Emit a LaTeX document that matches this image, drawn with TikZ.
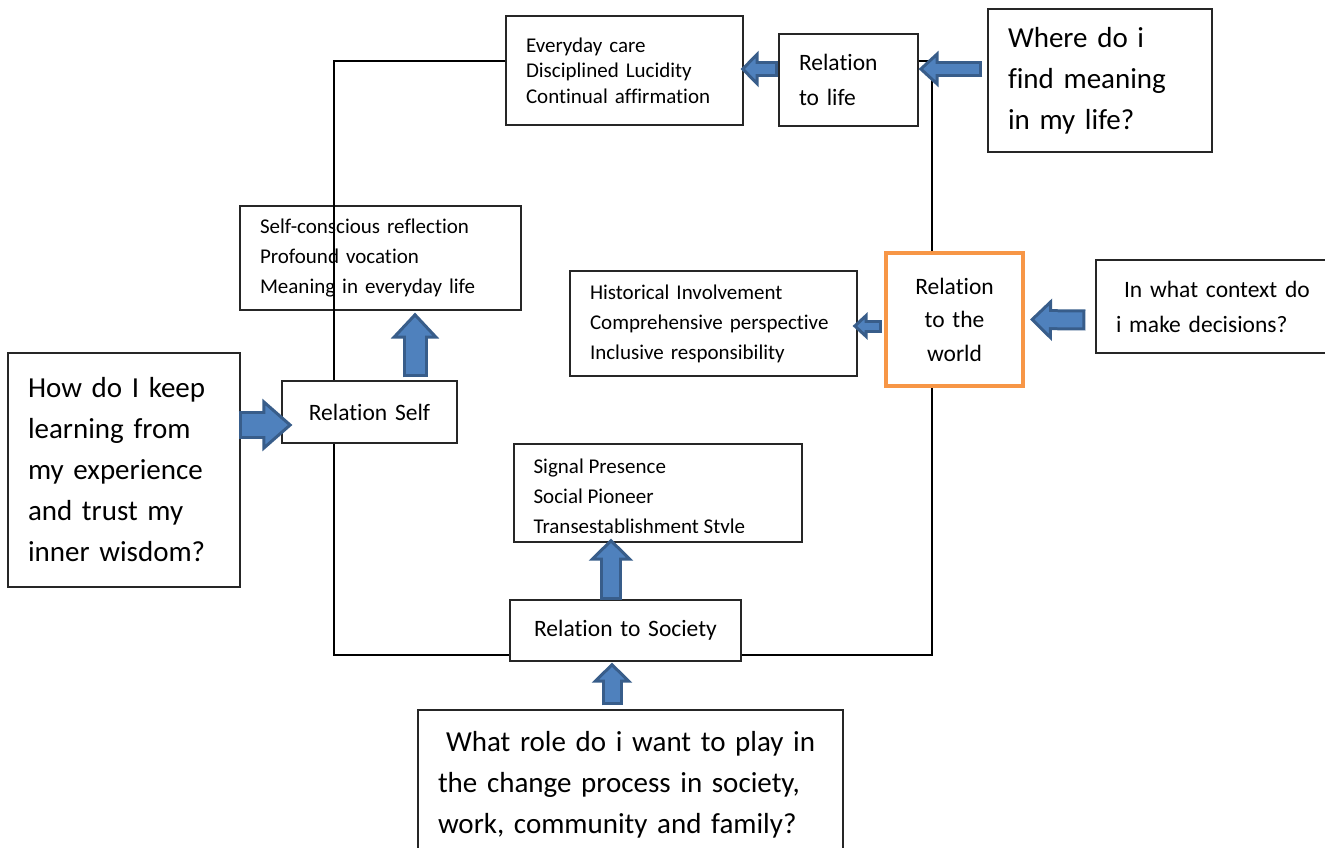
\documentclass[tikz,border=0pt]{standalone}
\usepackage{fontspec}
\setmainfont{Carlito}[Ligatures=NoCommon]
\usetikzlibrary{arrows.meta}
\definecolor{arrowfill}{HTML}{4F81BD}
\definecolor{arrowline}{HTML}{385D8A}
\definecolor{worldline}{HTML}{F79646}
\tikzset{box/.style={draw=black!85, line width=1.2pt, fill=white, inner xsep=20pt, inner ysep=0pt, align=left}}
\tikzset{list/.style={font=\fontsize{21}{30}\selectfont}}
\tikzset{rel/.style={font=\fontsize{23.5}{35}\selectfont}}
\tikzset{ask/.style={font=\fontsize{29}{41}\selectfont}}
\tikzset{fat/.style n args={3}{draw=arrowline, line width=#1pt, -{Triangle[length=#3pt, width=#2pt, fill=arrowfill, line width=3pt]}, postaction={draw=arrowfill, line width=#1pt-6pt, -, shorten <=3pt, shorten >=#3pt-4pt}}}

\begin{document}
\begin{tikzpicture}
                [x=1pt,y=-1pt]
                \useasboundingbox (0,0) rectangle (1325,848);
                \node [box,list,font=\fontsize{21}{25.5}\selectfont,text width=197pt,minimum height=109pt] (care) at (624.5,70.5) {Everyday care\\Disciplined Lucidity\\Continual affirmation};
                \node [box,rel,text width=99pt,minimum height=92pt] (life) at (848.5,80) {Relation\\to life};
                \node [box,ask,text width=184pt,minimum height=143pt] (where) at (1100,80.5) {Where do i\\find meaning\\in my life?};
                \node [box,list,text width=241pt,minimum height=104pt] (reflect) at (380.5,258) {Self-conscious reflection\\Profound vocation\\Meaning in everyday life};
                \node [box,list,text width=247pt,minimum height=105pt] (history) at (713.5,323.5) {Historical Involvement\\Comprehensive perspective\\Inclusive responsibility};
                \node [box,rel,font=\fontsize{23.5}{33.5}\selectfont,draw=worldline,line width=4pt,align=center,text width=97pt,minimum height=133pt] (world) at (954.5,319.5) {Relation\\to the\\world};
                \node [box,rel,text width=220pt,minimum height=93pt] (context) at (1226,306.5) {\hspace*{8pt}In what context do\\i make decisions?};
                \node [box,ask,text width=192pt,minimum height=234pt] (how) at (124,470) {How do I keep\\learning from\\my experience\\and trust my\\inner wisdom?};
                \node [box,rel,align=center,text width=135pt,minimum height=62pt] (self) at (369.5,412) {Relation Self};
                \node [box,text width=248pt,minimum height=98pt] (signal) at (658,493) {};
                \begin{scope}
                \clip (signal.north west) rectangle ([yshift=10pt]signal.south east);
                \node [list,align=left,inner sep=0pt,anchor=north west] (signaltext) at ([xshift=20pt,yshift=-15pt]signal.north west) {Signal Presence\\Social Pioneer\\Transestablishment Style};
                \end{scope}
                \node [box,rel,align=center,text width=191pt,minimum height=61pt] (society) at (625.5,630.5) {Relation to Society};
                \node [box,ask,text width=385pt,minimum height=150pt] (role) at (630.5,785) {\hspace*{8pt}What role do i want to play in\\the change process in society,\\work, community and family?};
                
                \coordinate (c1) at (334,61);
                \coordinate (c2) at (334,655);
                \coordinate (c3) at (932,655);
                \coordinate (c4) at (932,61);
                \draw [line width=1.2pt] (care.west|-c1) -- (c1) -- (c1|-self.north);
                \draw [line width=1.2pt] (c1|-self.south) -- (c2) -- (society.west|-c2);
                \draw [line width=1.2pt] (society.east|-c2) -- (c3) -- (c3|-world.south);
                \draw [line width=1.2pt] (c3|-world.north) -- (c4) -- (life.east|-c4);
                
                \draw [fat={16}{36}{20}] ([xshift=-5pt,yshift=11.5pt]where.west) -- ([yshift=11pt]life.east);
                \draw [fat={16}{36}{18}] ([yshift=11pt]life.west) -- ([xshift=-3pt,yshift=1.5pt]care.east);
                \draw [fat={28}{52}{30}] ([xshift=-2pt,yshift=45pt]how.east) -- ([xshift=11pt,yshift=-13pt]self.west);
                \draw [fat={25}{48}{26}] ([xshift=45.5pt,yshift=3pt]self.north) -- ([xshift=34.5pt,yshift=-2pt]reflect.south);
                \draw [fat={13}{27}{15}] ([xshift=-2pt,yshift=-6.5pt]world.west) -- ([xshift=-5pt,yshift=-2.5pt]history.east);
                \draw [fat={21}{42}{22}] ([xshift=-10pt,yshift=-13.5pt]context.west) -- ([xshift=5pt]world.east);
                \draw [fat={22}{44}{22}] ([xshift=-14.5pt,yshift=-1pt]society.north) -- ([xshift=-47pt,yshift=4pt]signal.south);
                \draw [fat={21}{40}{20}] ([xshift=-18.5pt,yshift=4pt]role.north) -- ([xshift=-13.5pt,yshift=-1pt]society.south);
            \end{tikzpicture}
\end{document}
